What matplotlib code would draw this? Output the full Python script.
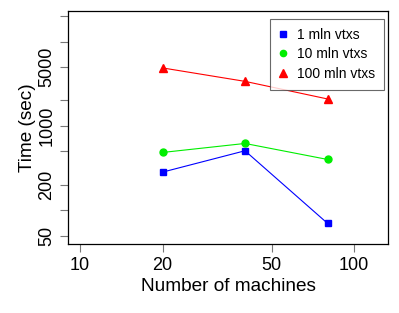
import numpy as np
import matplotlib
matplotlib.use("Agg")
import matplotlib.pyplot as plt
from matplotlib.ticker import FixedLocator, NullLocator

plt.rcParams['font.family'] = ['Liberation Sans', 'DejaVu Sans']

machines = [20, 40, 80]
t_1mln = [283, 507, 70]
t_10mln = [484, 619, 400]
t_100mln = [4865, 3370, 2085]
labels = ["1 mln vtxs", "10 mln vtxs", "100 mln vtxs"]

xticks = [10, 20, 50, 100]
yticks = [50, 100, 200, 500, 1000, 2000, 5000, 10000, 20000]
ylabels_shown = {50: "50", 200: "200", 1000: "1000", 5000: "5000"}

fig = plt.figure(figsize=(3.99, 3.13), dpi=100)
ax = fig.add_axes([68/399, 69/313, 320/399, 233/313])

ax.plot(machines, t_1mln, '-', color='#0000ff', lw=0.8, marker='s', ms=5, label=labels[0])
ax.plot(machines, t_10mln, '-', color='#00ee00', lw=0.8, marker='o', ms=5, label=labels[1])
ax.plot(machines, t_100mln, '-', color='#ff0000', lw=0.8, marker='^', ms=6, label=labels[2])

ax.set_xscale('log')
ax.set_yscale('log')
ax.set_xlim(9.04, 133)
ax.set_ylim(39.8, 23000)

ax.xaxis.set_major_locator(FixedLocator(xticks))
ax.xaxis.set_minor_locator(NullLocator())
ax.set_xticklabels([str(v) for v in xticks])
ax.yaxis.set_major_locator(FixedLocator(yticks))
ax.yaxis.set_minor_locator(NullLocator())
ax.set_yticklabels([ylabels_shown.get(v, "") for v in yticks], rotation=90, va='center')

ax.tick_params(axis='both', direction='out', length=6, width=0.8, color='#777777',
               labelsize=13, pad=3)
for s in ax.spines.values():
    s.set_linewidth(0.9)

ax.set_xlabel("Number of machines", fontsize=13.7, labelpad=3)
ax.set_ylabel("Time (sec)", fontsize=13.7, labelpad=2)

leg = ax.legend(loc='upper right', bbox_to_anchor=(384/399, 1 - 19/313),
                bbox_transform=fig.transFigure, fontsize=10, fancybox=False,
                handlelength=0.5, handletextpad=0.75, borderpad=0.65, labelspacing=0.38,
                borderaxespad=0, markerscale=0.9)
leg.get_frame().set_edgecolor('#444444')
leg.get_frame().set_linewidth(0.8)
for h in leg.legend_handles:
    h.set_linestyle('None')

fig.savefig("out.png", dpi=100)
